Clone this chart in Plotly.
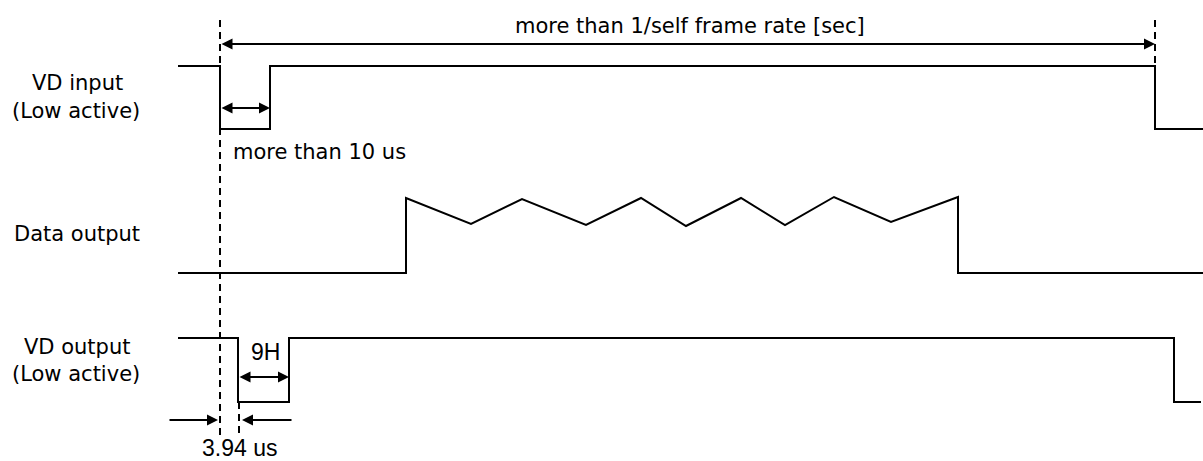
import plotly.graph_objects as go

# Signal waveforms (diagram coordinates: x = time position, y = vertical position, top-down)
vd_in_x = [178, 220, 220, 270, 270, 1155, 1155, 1203]
vd_in_y = [66, 66, 129, 129, 66, 66, 129, 129]

data_x = [178, 406, 406, 471, 522, 586, 641, 686, 741, 785, 834, 891, 958, 958, 1203]
data_y = [273, 273, 198, 224, 199, 225, 198, 226, 198, 225, 197, 222, 197, 273, 273]

vd_out_x = [178, 238, 238, 289, 289, 1174, 1174, 1201]
vd_out_y = [338, 338, 402, 402, 338, 338, 402, 402]

# Reference dashed markers
dash1_x = [220, 220]
dash1_y = [20, 440]
dash2_x = [1155, 1155]
dash2_y = [20, 66]
dash3_x = [239, 239]
dash3_y = [402, 436]

# Signal labels
sig_labels = ["VD input", "(Low active)", "Data output", "VD output", "(Low active)"]
sig_label_x = [77, 76, 77, 77, 76]
sig_label_y = [83, 111, 234, 347, 374]

# Measurement arrows: (tail_x, tail_y, head_x, head_y, double)
arrows = [
    (220, 44, 1155, 44, True),
    (220, 108, 270, 108, True),
    (238, 377, 289, 377, True),
    (168, 420, 218, 420, False),
    (293, 420, 242, 420, False),
]
notes = ["more than 1/self frame rate [sec]", "more than 10 us"]
note_x = [690, 231]
note_y = [26, 152]
note_anchor = ["center", "left"]

small_notes = ["9H", "3.94 us"]
small_x = [265, 239]
small_y = [352, 448]

FONT = "DejaVu Sans"
FONT2 = "Liberation Sans"
fig = go.Figure()
line = dict(color="black", width=2)
for xs, ys in [(vd_in_x, vd_in_y), (data_x, data_y), (vd_out_x, vd_out_y)]:
    fig.add_trace(go.Scatter(x=xs, y=ys, mode="lines", line=line, hoverinfo="skip"))
for xs, ys in [(dash1_x, dash1_y), (dash2_x, dash2_y), (dash3_x, dash3_y)]:
    fig.add_trace(go.Scatter(x=xs, y=ys, mode="lines",
                             line=dict(color="black", width=2, dash="7px,5px"), hoverinfo="skip"))

for t, xx, yy in zip(sig_labels, sig_label_x, sig_label_y):
    fig.add_annotation(x=xx, y=yy, text=t, showarrow=False, xanchor="center", yanchor="middle",
                       font=dict(family=FONT, size=21, color="black"))

for tx, ty, hx, hy, dbl in arrows:
    fig.add_annotation(x=hx, y=hy, ax=tx, ay=ty, axref="x", ayref="y", xref="x", yref="y",
                       text="", showarrow=True, arrowhead=2, arrowsize=1.1, arrowwidth=2,
                       arrowcolor="black", arrowside="end+start" if dbl else "end",
                       startarrowhead=2, startarrowsize=1.1, standoff=0, startstandoff=0)

for t, xx, yy, an in zip(notes, note_x, note_y, note_anchor):
    fig.add_annotation(x=xx, y=yy, text=t, showarrow=False, xanchor=an, yanchor="middle",
                       font=dict(family=FONT, size=21, color="black"))

for t, xx, yy in zip(small_notes, small_x, small_y):
    fig.add_annotation(x=xx, y=yy, text=t, showarrow=False, xanchor="center", yanchor="middle",
                       font=dict(family=FONT2, size=23, color="black"))

fig.update_layout(
    width=1203, height=461, margin=dict(l=0, r=0, t=0, b=0),
    paper_bgcolor="white", plot_bgcolor="white", showlegend=False,
    xaxis=dict(range=[0, 1203], visible=False, fixedrange=True),
    yaxis=dict(range=[461, 0], visible=False, fixedrange=True),
)
fig.write_html("out.html", config={"displayModeBar": False, "staticPlot": True},
               post_script="document.body.style.margin='0';document.body.style.overflow='hidden';")
